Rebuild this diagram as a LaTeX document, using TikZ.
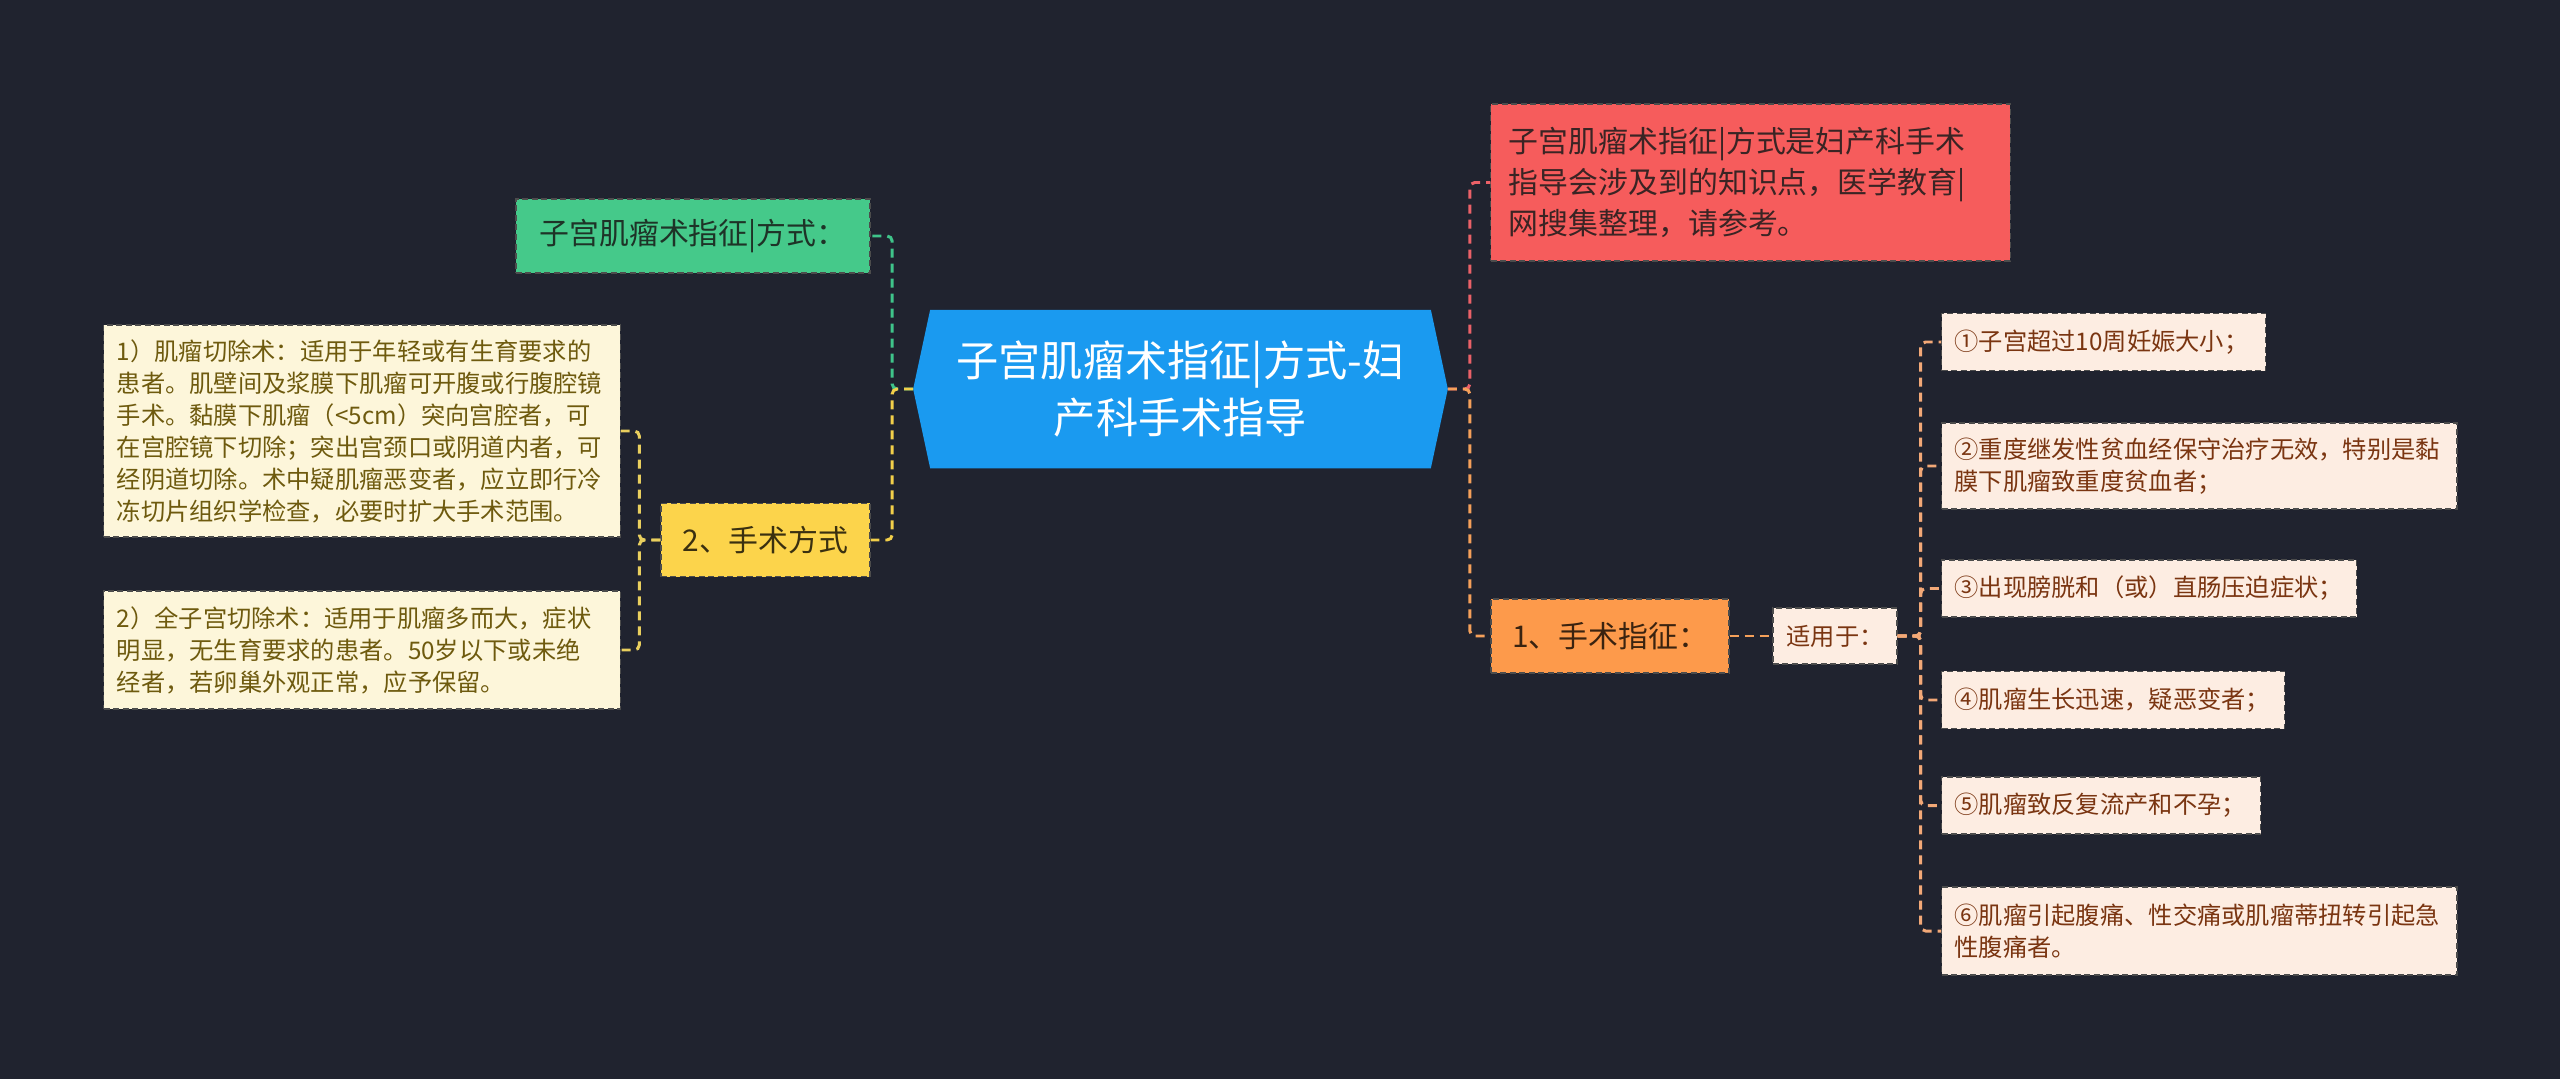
\documentclass[tikz,border=0pt]{standalone}
\usepackage{fontspec}
\newfontfamily\cjk{Noto Sans CJK SC}
\usepackage{tikz}

\definecolor{bgcol}{HTML}{20232F}
\definecolor{rootblue}{HTML}{1A9AF0}
\definecolor{notered}{HTML}{F65C5C}
\definecolor{notetext}{HTML}{3A2424}
\definecolor{tipgreen}{HTML}{45C98A}
\definecolor{tiptext}{HTML}{1E3327}
\definecolor{wayyellow}{HTML}{FCD44B}
\definecolor{waytext}{HTML}{3A3010}
\definecolor{indorange}{HTML}{FD9A4B}
\definecolor{indtext}{HTML}{3A2310}
\definecolor{itempeach}{HTML}{FDEDE2}
\definecolor{itembrown}{HTML}{7A3511}
\definecolor{itemcream}{HTML}{FDF6DA}
\definecolor{itemolive}{HTML}{6E5A0E}
\definecolor{linkgreen}{HTML}{3FC48A}
\definecolor{linkyellow}{HTML}{F2CF4A}
\definecolor{linkcream}{HTML}{E9CF5E}
\definecolor{linkred}{HTML}{EB6168}
\definecolor{linkorange}{HTML}{F5A05A}
\definecolor{linkpeach}{HTML}{F2A877}

\begin{document}
\begin{tikzpicture}[x=0.01cm, y=-0.01cm,
    box/.style={draw=black!70, dash pattern=on 0.06cm off 0.035cm, line width=0.35pt, inner xsep=0.13cm, inner ysep=0pt, align=left},
    topic/.style={box, font=\cjk\fontsize{8.5}{11.7}\selectfont},
    leaf/.style={box, font=\cjk\fontsize{6.9}{9.1}\selectfont},
    item/.style={leaf, fill=itempeach, text=itembrown, anchor=west, minimum height=0.57cm},
    method/.style={leaf, fill=itemcream, text=itemolive, text width=4.90cm},
    link/.style={line width=0.85pt, dash pattern=on 0.09cm off 0.06cm, rounded corners=0.05cm}]
    % Define the canvas
    \useasboundingbox (0,0) rectangle (2560,1079);
    \fill[bgcol] (0,0) rectangle (2560,1079);

    % Central topic (hexagon)
    \node[minimum width=5.33cm, minimum height=1.57cm, inner sep=0pt] (root) at (1180.5,389) {};
    \fill[rootblue] (root.west) -- ([xshift=0.17cm]root.north west) -- ([xshift=-0.17cm]root.north east)
        -- (root.east) -- ([xshift=-0.17cm]root.south east) -- ([xshift=0.17cm]root.south west) -- cycle;
    \node[font=\cjk\fontsize{12}{16.2}\selectfont, text=white, align=center] at (root) {子宫肌瘤术指征|方式-妇\\产科手术指导};

    % Left branches
    \node[topic, fill=tipgreen, text=tiptext, minimum width=3.54cm, minimum height=0.74cm] (tip) at (693,236) {子宫肌瘤术指征|方式：};
    \node[topic, fill=wayyellow, text=waytext, minimum width=2.09cm, minimum height=0.73cm] (way) at (765.5,540) {2、手术方式};
    \node[method, minimum height=2.12cm] (m1) at (362,431) {1）肌瘤切除术：适用于年轻或有生育要求的\\患者。肌壁间及浆膜下肌瘤可开腹或行腹腔镜\\手术。黏膜下肌瘤（<5cm）突向宫腔者，可\\在宫腔镜下切除；突出宫颈口或阴道内者，可\\经阴道切除。术中疑肌瘤恶变者，应立即行冷\\冻切片组织学检查，必要时扩大手术范围。};
    \node[method, minimum height=1.18cm] (m2) at (362,650) {2）全子宫切除术：适用于肌瘤多而大，症状\\明显，无生育要求的患者。50岁以下或未绝\\经者，若卵巢外观正常，应予保留。};

    % Right branches
    \node[topic, fill=notered, text=notetext, text width=4.83cm, inner xsep=0.18cm, minimum height=1.57cm] (note) at (1750.5,182.5) {子宫肌瘤术指征|方式是妇产科手术\\指导会涉及到的知识点，医学教育|\\网搜集整理，请参考。};
    \node[topic, fill=indorange, text=indtext, minimum width=2.38cm, minimum height=0.74cm] (ind) at (1610,636) {1、手术指征：};
    \node[leaf, fill=itempeach, text=itembrown, minimum width=1.24cm, minimum height=0.56cm] (use) at (1835,636) {适用于：};

    \node[item, text width=2.98cm] (i1) at (1941,342) {①子宫超过10周妊娠大小；};
    \node[item, text width=4.89cm, minimum height=0.86cm] (i2) at (1941,466) {②重度继发性贫血经保守治疗无效，特别是黏\\膜下肌瘤致重度贫血者；};
    \node[item, text width=3.89cm] (i3) at (1941,588.5) {③出现膀胱和（或）直肠压迫症状；};
    \node[item, text width=3.17cm] (i4) at (1941,700) {④肌瘤生长迅速，疑恶变者；};
    \node[item, text width=2.93cm] (i5) at (1941,805.5) {⑤肌瘤致反复流产和不孕；};
    \node[item, text width=4.89cm, minimum height=0.88cm] (i6) at (1941,931) {⑥肌瘤引起腹痛、性交痛或肌瘤蒂扭转引起急\\性腹痛者。};

    % Connectors
    \draw[link, linkgreen] (root.west) -- ++(-21,0) |- (tip.east);
    \draw[link, linkyellow] (root.west) -- ++(-21,0) |- (way.east);
    \foreach \m in {m1,m2}
        \draw[link, linkcream] (way.west) -- ++(-21,0) |- (\m.east);
    \draw[link, linkred] (root.east) -- ++(22,0) |- (note.west);
    \draw[link, linkorange] (root.east) -- ++(22,0) |- (ind.west);
    \draw[link, linkorange] (ind) -- (use);
    \foreach \i in {1,...,6}
        \draw[link, linkpeach] (use.east) -- ++(23,0) |- (i\i.west);
\end{tikzpicture}
\end{document}
